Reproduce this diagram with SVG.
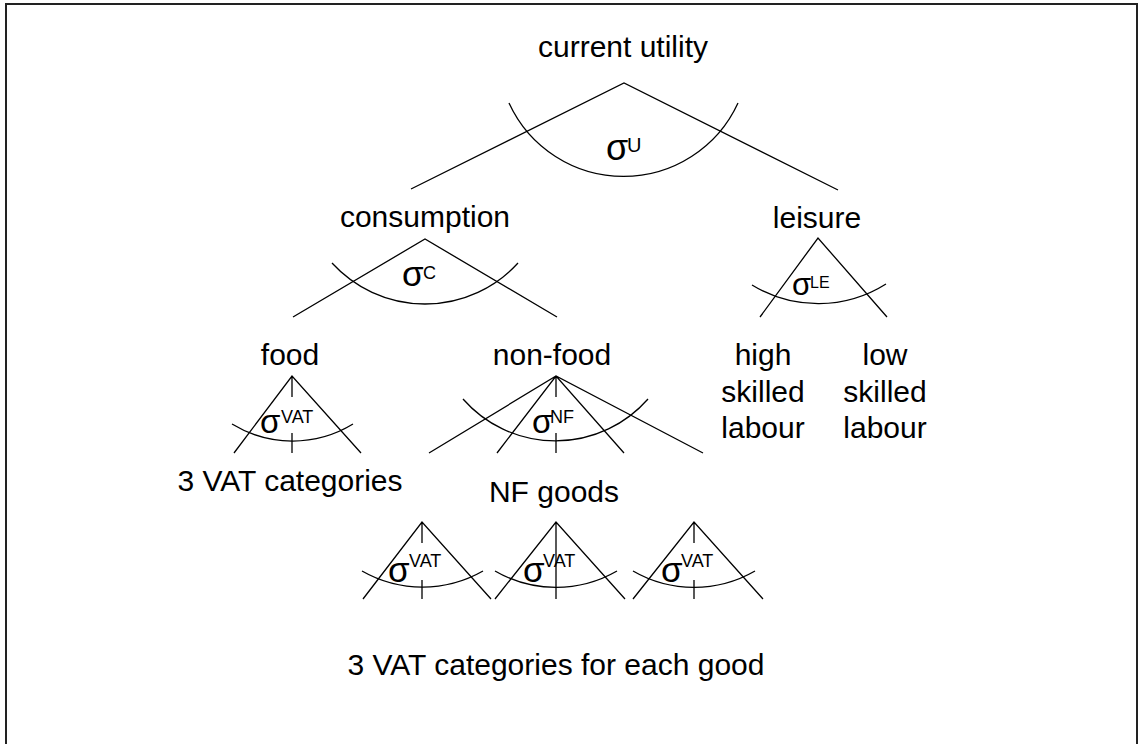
<svg xmlns="http://www.w3.org/2000/svg" width="1139" height="744" viewBox="0 0 1139 744">
<style>
.t{font-family:"Liberation Sans",Arial,sans-serif;font-size:30px;fill:#000}
.s{font-family:"Liberation Sans",Arial,sans-serif;font-size:33px;fill:#000}
.p{font-family:"Liberation Sans",Arial,sans-serif;font-size:18px;fill:#000}
.l{stroke:#000;stroke-width:1.3;fill:none}
</style>
<rect x="6" y="4" width="1131" height="760" fill="#fff" stroke="#222" stroke-width="2"/>
<g id="connectors" class="l">
<path d="M411,189 L624,83 L838,190"/>
<path d="M293,317 L425,239 L557,317"/>
<path d="M760,317 L818,238 L887,317"/>
<path d="M234,453 L292,376 L361,453 M292,376 V397 M292,433 V453"/>
<path d="M429,453 L556,376 L703,453 M497,453 L556,376 L624,453 M556,376 V397 M556,433 V453"/>
<path d="M363,599 L422,522 L491,599 M422,522 V543 M422,580 V599"/>
<path d="M495,599 L556,522 L625,599 M556,522 V599"/>
<path d="M633,599 L694,522 L763,599 M694,522 V543 M694,580 V599"/>
</g>
<g id="current-utility">
<text class="t" x="623" y="57" text-anchor="middle">current utility</text>
<path class="l" d="M509,103 A126,126 0 0 0 738,103"/>
<text class="s" x="606" y="160" style="font-size:36px">σ</text>
<text class="p" x="627" y="152" style="font-size:20px">U</text>
</g>
<g id="consumption">
<text class="t" x="425" y="227" text-anchor="middle">consumption</text>
<path class="l" d="M332,263 A126,126 0 0 0 518,263"/>
<text class="s" x="402" y="286" style="font-size:35px">σ</text>
<text class="p" x="423" y="279">C</text>
</g>
<g id="leisure">
<text class="t" x="817" y="228" text-anchor="middle">leisure</text>
<path class="l" d="M752,285 A127,127 0 0 0 886,284"/>
<text class="s" x="792" y="295" style="font-size:31px">σ</text>
<text class="p" x="810" y="288" style="font-size:16px">LE</text>
</g>
<g id="food">
<text class="t" x="290" y="365" text-anchor="middle">food</text>
<path class="l" d="M232,424 A116,116 0 0 0 353,424"/>
<text class="s" x="260" y="433">σ</text>
<text class="p" x="281" y="423">VAT</text>
</g>
<g id="non-food">
<text class="t" x="552" y="365" text-anchor="middle">non-food</text>
<path class="l" d="M463,399 A123,123 0 0 0 648,399"/>
<text class="s" x="532" y="433">σ</text>
<text class="p" x="550" y="423">NF</text>
</g>
<g id="high-skilled-labour">
<text class="t" x="763" y="365" text-anchor="middle">high</text>
<text class="t" x="763" y="402" text-anchor="middle">skilled</text>
<text class="t" x="763" y="438" text-anchor="middle">labour</text>
</g>
<g id="low-skilled-labour">
<text class="t" x="885" y="365" text-anchor="middle">low</text>
<text class="t" x="885" y="402" text-anchor="middle">skilled</text>
<text class="t" x="885" y="438" text-anchor="middle">labour</text>
</g>
<g id="food-vat">
<text class="t" x="290" y="491" text-anchor="middle">3 VAT categories</text>
</g>
<g id="nf-goods">
<text class="t" x="554" y="502" text-anchor="middle">NF goods</text>
</g>
<g id="nf-good-1">
<path class="l" d="M362,571 A122,122 0 0 0 483,571"/>
<text class="s" x="388" y="582" style="font-size:35px">σ</text>
<text class="p" x="409" y="567">VAT</text>
</g>
<g id="nf-good-2">
<path class="l" d="M495,571 A122,122 0 0 0 617,571"/>
<text class="s" x="523" y="582" style="font-size:35px">σ</text>
<text class="p" x="543" y="567">VAT</text>
</g>
<g id="nf-good-3">
<path class="l" d="M633,571 A122,122 0 0 0 755,571"/>
<text class="s" x="661" y="582" style="font-size:35px">σ</text>
<text class="p" x="681" y="567">VAT</text>
</g>
<g id="nf-vat">
<text class="t" x="556" y="675" text-anchor="middle">3 VAT categories for each good</text>
</g>
</svg>
